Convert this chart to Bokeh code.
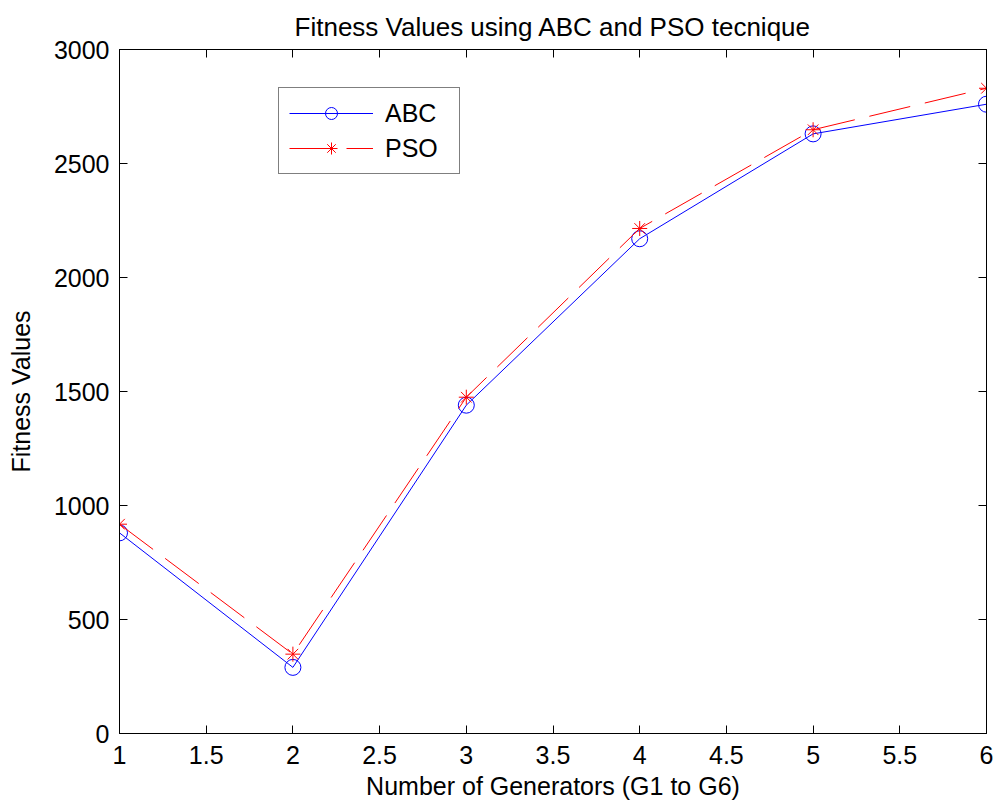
from bokeh.plotting import figure
from bokeh.models import LinearAxis, FixedTicker, Range1d, Legend, LegendItem, CustomLabelingPolicy
from bokeh.embed import file_html
from bokeh.resources import INLINE

generators = [1, 2, 3, 4, 5, 6]
abc_values = [880, 290, 1440, 2170, 2630, 2760]
pso_values = [918, 348, 1475, 2215, 2648, 2830]
x_ticks = [1, 1.5, 2, 2.5, 3, 3.5, 4, 4.5, 5, 5.5, 6]
x_tick_labels = ["1", "1.5", "2", "2.5", "3", "3.5", "4", "4.5", "5", "5.5", "6"]
y_ticks = [0, 500, 1000, 1500, 2000, 2500, 3000]

FONT = "Liberation Sans"
FS = "25px"

p = figure(width=996, height=802, output_backend="svg", toolbar_location=None,
           x_range=Range1d(1, 6), y_range=Range1d(0, 3000),
           min_border_left=119, min_border_right=10, min_border_top=49, min_border_bottom=69,
           title="Fitness Values using ABC and PSO tecnique")
p.title.align = "center"
p.title.text_font = FONT
p.title.text_font_size = "26px"
p.title.text_font_style = "normal"
p.title.text_color = "black"
p.title.offset = 0
p.title.standoff = 16
p.xgrid.visible = False
p.ygrid.visible = False
p.outline_line_color = "black"
p.outline_line_width = 1
p.outline_line_alpha = 1
p.background_fill_color = "white"
p.border_fill_color = "white"

def style_axis(ax, labels=True):
    ax.axis_line_color = "black"
    ax.major_tick_line_color = "black"
    ax.major_tick_in = 8
    ax.major_tick_out = 0
    ax.minor_tick_line_color = None
    ax.major_label_text_font = FONT
    ax.major_label_text_font_size = FS if labels else "0px"
    ax.major_label_text_color = "black"
    ax.axis_label_text_font = FONT
    ax.axis_label_text_font_size = FS
    ax.axis_label_text_font_style = "normal"
    ax.axis_label_text_color = "black"
    if not labels:
        ax.major_label_policy = CustomLabelingPolicy(
            code="for (const i of indices) { if (false) { yield i } }")

xax = p.xaxis[0]
xax.ticker = FixedTicker(ticks=x_ticks)
xax.major_label_overrides = {t: l for t, l in zip(x_ticks, x_tick_labels)}
xax.axis_label = "Number of Generators (G1 to G6)"
xax.major_label_standoff = 12
xax.axis_label_standoff = 5
style_axis(xax)

yax = p.yaxis[0]
yax.ticker = FixedTicker(ticks=y_ticks)
yax.axis_label = "Fitness Values"
yax.major_label_standoff = 10
yax.axis_label_standoff = 16
style_axis(yax)

top = LinearAxis(ticker=FixedTicker(ticks=x_ticks))
style_axis(top, labels=False)
top.major_label_standoff = 0
p.add_layout(top, "above")
right = LinearAxis(ticker=FixedTicker(ticks=y_ticks))
style_axis(right, labels=False)
right.major_label_standoff = 0
p.add_layout(right, "right")

abc_line = p.line(generators, abc_values, line_color="#0000ff", line_width=1)
abc_mark = p.scatter(generators, abc_values, marker="circle", size=16,
                     line_color="#0000ff", fill_color=None, line_width=1)
pso_line = p.line(generators, pso_values, line_color="#ff0000", line_width=1, line_dash="42 15")
pso_mark = p.scatter(generators, pso_values, marker="asterisk", size=15,
                     line_color="#ff0000", line_width=1)

legend = Legend(items=[LegendItem(label="ABC", renderers=[abc_line, abc_mark]),
                       LegendItem(label="PSO", renderers=[pso_line, pso_mark])],
                location=(159, 559))
legend.border_line_color = "black"
legend.border_line_width = 1
legend.background_fill_alpha = 1
legend.label_text_font = FONT
legend.label_text_font_size = FS
legend.label_text_color = "black"
legend.glyph_width = 84
legend.glyph_height = 30
legend.label_height = 30
legend.label_width = 64
legend.spacing = 5
legend.padding = 10
legend.margin = 0
legend.label_standoff = 12
p.add_layout(legend, "center")

open("out.html", "w").write(file_html(p, INLINE))
